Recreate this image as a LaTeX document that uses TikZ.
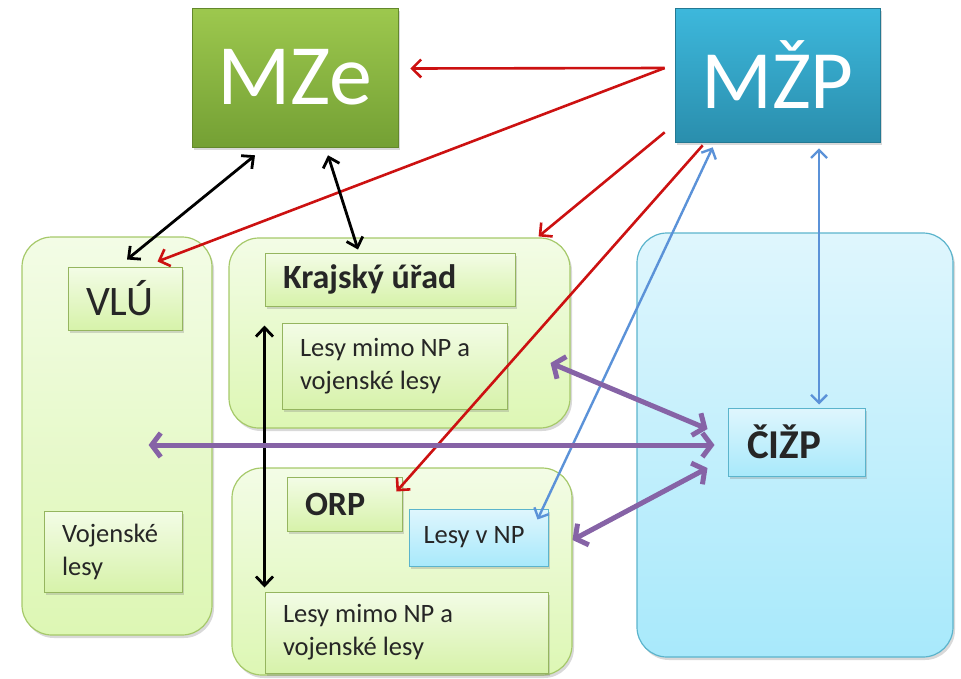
\documentclass[tikz,border=0pt]{standalone}
\usepackage{fontspec}
\setmainfont{Carlito}
\usetikzlibrary{arrows.meta,shadows}

\definecolor{mzetop}{HTML}{9DC84E}
\definecolor{mzebot}{HTML}{74A034}
\definecolor{mzpetop}{HTML}{3DB8DC}
\definecolor{mzpebot}{HTML}{2A8EAD}
\definecolor{areagreen}{HTML}{DDF7B4}
\definecolor{areagreentop}{HTML}{F3FCE6}
\definecolor{edgegreen}{HTML}{A6C96A}
\definecolor{areablue}{HTML}{A8E9FB}
\definecolor{areabluetop}{HTML}{DFF6FD}
\definecolor{edgeblue}{HTML}{5BB4CC}
\definecolor{arrred}{HTML}{CC1111}
\definecolor{arrblue}{HTML}{5B92D8}
\definecolor{arrpurple}{HTML}{8663A6}

\begin{document}
\begin{tikzpicture}[
        x=1pt,y=-1pt,
        shade/.style={drop shadow={shadow xshift=2pt,shadow yshift=-3pt,opacity=0.3}},
        ministry/.style={shade,draw=#1bot!85!black,line width=0.6pt,
            top color=#1top,bottom color=#1bot,text=white,inner sep=0pt},
        area/.style={shade,draw=edge#1,line width=1.2pt,rounded corners=30pt,
            top color=area#1top,bottom color=area#1,inner sep=0pt},
        gbox/.style={shade,draw=edgegreen!90!black,line width=1pt,
            top color=areagreentop,bottom color=areagreen!90!mzetop,
            inner ysep=0pt,inner xsep=18pt,align=left,text=black!85,
            execute at begin node={\spaceskip=0pt\xspaceskip=0pt}},
        bbox/.style={gbox,draw=edgeblue,top color=areabluetop,bottom color=areablue},
        mid/.style={font=\fontsize{26.5pt}{33pt}\selectfont},
        redarrow/.style={draw=arrred,line width=2.6pt,-{Straight Barb[length=9pt,width=18pt]}},
        blackarrow/.style={draw=black,line width=2.8pt,{Straight Barb[length=9pt,width=17pt]}-{Straight Barb[length=9pt,width=17pt]}},
        bluearrow/.style={draw=arrblue,line width=2.4pt,{Straight Barb[length=8pt,width=16pt]}-{Straight Barb[length=8pt,width=16pt]}},
        purplearrow/.style={draw=arrpurple,line width=5pt,{Straight Barb[length=9pt,width=24pt]}-{Straight Barb[length=9pt,width=24pt]}}
    ]
    \useasboundingbox (0,0) rectangle (961,678);

    \node[area=green,minimum width=190pt,minimum height=398pt] (vluarea) at (117,436) {};
    \node[area=green,minimum width=341pt,minimum height=190pt] (krajarea) at (399.5,333) {};
    \node[area=green,minimum width=340pt,minimum height=207pt] (orparea) at (402,571.5) {};
    \node[area=blue,minimum width=316pt,minimum height=424pt] (cizparea) at (795,445) {};

    \node[ministry=mze,minimum width=206pt,minimum height=139pt,
        font=\fontsize{86pt}{88pt}\selectfont] (mze) at (295,77.5) {MZe};
    \node[ministry=mzpe,minimum width=205pt,minimum height=134pt,
        font=\fontsize{83pt}{85pt}\selectfont] (mzp) at (777.5,75) {MŽP};

    \node[gbox,text width=78pt,minimum height=63pt,
        font=\fontsize{42pt}{44pt}\selectfont] (vlu) at (125,298.5) {VLÚ};
    \node[gbox,mid,text width=102pt,minimum height=81pt] (vojlesy) at (113,551.5) {Vojenské\\lesy};
    \node[gbox,text width=214pt,minimum height=53pt,
        font=\fontsize{34pt}{36pt}\selectfont\bfseries] (kraj) at (390,279.5) {Krajský úřad};
    \node[gbox,mid,text width=189pt,minimum height=86pt] (krajlesy) at (394.5,366) {Lesy mimo NP a\\vojenské lesy};
    \node[gbox,text width=79pt,minimum height=54pt,
        font=\fontsize{34pt}{36pt}\selectfont\bfseries] (orp) at (344.5,504) {ORP};
    \node[bbox,mid,text width=110pt,inner xsep=14.5pt,minimum height=57pt] (lesynp) at (478.5,537.5) {Lesy v NP};
    \node[gbox,mid,text width=247pt,minimum height=81pt] (orplesy) at (406.5,632.5) {Lesy mimo NP a\\vojenské lesy};
    \node[bbox,text width=99pt,minimum height=68pt,inner xsep=19pt,
        font=\fontsize{41pt}{43pt}\selectfont\bfseries] (cizp) at (796.5,442) {ČIŽP};

    \draw[redarrow] ([xshift=-10pt,yshift=7pt]mzp.west) -- ([xshift=12pt,yshift=9pt]mze.east);
    \draw[redarrow] ([xshift=-10pt,yshift=7pt]mzp.west) -- ([xshift=-25pt,yshift=5pt]vlu.north east);
    \draw[redarrow] ([xshift=-10pt,yshift=10pt]mzp.south west) -- ([xshift=-32pt,yshift=1pt]krajarea.north east);
    \draw[redarrow] ([xshift=28pt,yshift=-3pt]mzp.south west) -- ([xshift=-6pt,yshift=-15pt]orp.north east);

    \draw[blackarrow] ([xshift=-40pt,yshift=-8pt]mze.south) -- ([xshift=2pt,yshift=7pt]vlu.north);
    \draw[blackarrow] ([xshift=33pt,yshift=-8pt]mze.south) -- ([xshift=-32pt,yshift=3pt]kraj.north);
    \draw[blackarrow] ([yshift=-19pt]kraj.south west) -- ([yshift=4pt]orplesy.north west);

    \draw[bluearrow] ([xshift=38pt,yshift=-5pt]mzp.south west) -- ([xshift=-11pt,yshift=-11pt]lesynp.north east);
    \draw[bluearrow] ([xshift=41.5pt,yshift=-6pt]mzp.south) -- ([xshift=22.5pt,yshift=3pt]cizp.north);

    \draw[purplearrow] ([xshift=43pt,yshift=3pt]krajlesy.east) -- ([xshift=-20pt,yshift=13pt]cizp.west);
    \draw[purplearrow] ([xshift=-64pt,yshift=-9pt]vluarea.east) -- ([xshift=-13pt,yshift=-3pt]cizp.west);
    \draw[purplearrow] ([xshift=24pt,yshift=-2.5pt]lesynp.east) -- ([xshift=-20pt,yshift=-26pt]cizp.west);
\end{tikzpicture}
\end{document}
